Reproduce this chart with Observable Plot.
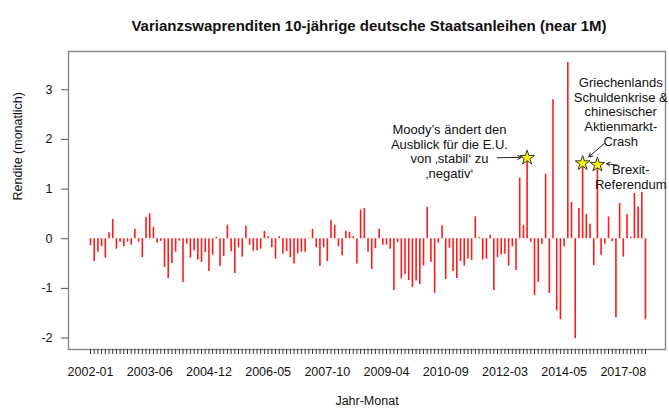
<!DOCTYPE html>
<html>
<head>
<meta charset="utf-8">
<script src="https://cdn.jsdelivr.net/npm/d3@7"></script>
<script src="https://cdn.jsdelivr.net/npm/@observablehq/plot@0.6"></script>
<style>
  html, body { margin: 0; padding: 0; background: #fff; }
</style>
</head>
<body>
<div id="chart"></div>
<script>
// Monthly variance-swap returns (one value per plotted month, in order)
const values = [
  -0.14, -0.46, -0.27, -0.16, -0.39, 0.12, 0.39, -0.21, -0.07, -0.16,
  -0.07, -0.13, 0.19, -0.07, -0.38, 0.43, 0.50, 0.23, -0.09, -0.05,
  -0.58, -0.80, -0.50, -0.27, -0.05, -0.88, -0.11, -0.39, -0.24, -0.43,
  -0.48, -0.28, -0.66, -0.33, 0.03, -0.56, -0.36, 0.27, -0.26, -0.70,
  -0.18, -0.37, 0.25, -0.13, -0.25, -0.24, -0.21, 0.15, 0.04, -0.18,
  -0.41, 0.04, -0.31, -0.26, -0.38, -0.51, -0.30, -0.27, -0.27, 0.01,
  0.19, -0.18, -0.56, -0.18, -0.46, 0.37, 0.27, -0.16, -0.34, 0.15,
  0.13, 0.04, -0.51, 0.58, 0.61, -0.27, -0.62, -0.20, 0.19, -0.13,
  -0.13, -0.21, -1.04, -0.08, -0.81, -0.72, -0.84, -0.98, -0.85, -0.92,
  -0.55, 0.63, -0.48, -1.10, -0.09, 0.26, -0.82, -0.19, -0.66, -0.80,
  -0.46, -0.55, -0.41, -0.44, 0.44, 0.02, -0.43, -0.41, 0.07, -1.04,
  -0.38, -0.33, -0.31, -0.55, -0.16, -0.64, 1.22, 0.27, 1.63, -0.07,
  -1.14, -0.88, -0.11, 1.30, -1.10, 2.80, -1.45, -1.63, -0.16, 3.55,
  0.73, -2.01, 0.61, 1.52, 0.49, 0.29, -0.54, 1.49, -0.33, -0.11,
  0.44, -0.06, -1.59, 0.71, -0.37, 0.49, 0.03, 0.91, 0.64, 0.93,
  -1.63
];

// x tick labels (one label every 16 plotted months)
const tickLabels = ["2002-01", "2003-06", "2004-12", "2006-05", "2007-10",
                    "2009-04", "2010-09", "2012-03", "2014-05", "2017-08"];
const labelEvery = 16;

const yTicks = [-2, -1, 0, 1, 2, 3];

// starred months (indices into values)
const starIndex = [118, 133, 137];

// annotation texts (positions in data units: month index, return)
const noteText = [
  "Moody’s ändert den\nAusblick für die E.U.\nvon ‚stabil‘ zu\n‚negativ‘",
  "Griechenlands\nSchuldenkrise &\nchinesischer\nAktienmarkt-\nCrash",
  "Brexit-\nReferendum"
];
const noteX = [97.0, 143.3, 146.0];
const noteY = [1.76, 2.56, 1.25];

// arrows from text to stars
const arrowX1 = [109.9, 138.9, 142.5];
const arrowY1 = [1.63, 1.92, 1.48];
const arrowX2 = [116.4, 134.7, 139.5];
const arrowY2 = [1.64, 1.65, 1.51];

const data = values.map((v, i) => ({i, v}));
const notes = noteText.map((t, k) => ({t, x: noteX[k], y: noteY[k]}));
const arrows = arrowX1.map((_, k) => ({x1: arrowX1[k], y1: arrowY1[k], x2: arrowX2[k], y2: arrowY2[k]}));
const stars = starIndex.map(i => ({i, v: values[i]}));
const xTicks = d3.range(values.length);

const chart = Plot.plot({
  width: 669,
  height: 409,
  marginLeft: 68,
  marginRight: 4,
  marginTop: 51,
  marginBottom: 60,
  style: {fontFamily: "'Liberation Sans', Arial, sans-serif", fontSize: "12.5px", color: "#111", background: "#fff"},
  x: {type: "linear", domain: [-5.95, 155.4]},
  y: {domain: [-2.23, 3.77]},
  marks: [
    Plot.frame({stroke: "#888", strokeWidth: 1.4}),
    Plot.ruleX(data, {x: "i", y1: 0, y2: "v", stroke: "#ff1a1a", strokeWidth: 1.6}),
    Plot.axisX({
      ticks: xTicks,
      tickSize: 5,
      tickPadding: 13,
      tickFormat: i => (i % labelEvery === 0 && tickLabels[i / labelEvery]) ? tickLabels[i / labelEvery] : "",
      stroke: "#333",
      label: null
    }),
    Plot.axisY({ticks: yTicks, tickSize: 7, tickPadding: 9, stroke: "#555", label: null, tickFormat: d => d}),
    Plot.arrow(arrows, {x1: "x1", y1: "y1", x2: "x2", y2: "y2", stroke: "#222", strokeWidth: 1, headLength: 6}),
    Plot.dot(stars, {x: "i", y: "v", symbol: "star", r: 4.6, fill: "#ffff00", stroke: "#333", strokeWidth: 1}),
    Plot.text(notes, {x: "x", y: "y", text: "t", fontSize: 13, lineHeight: 1.13, textAnchor: "middle", fill: "#111"}),
    Plot.text(["Varianzswaprenditen 10-jährige deutsche Staatsanleihen (near 1M)"],
      {frameAnchor: "top", text: d => d, dx: 2, dy: -31, fontSize: 15, fontWeight: "bold", fill: "#111"}),
    Plot.text(["Rendite (monatlich)"],
      {frameAnchor: "left", text: d => d, rotate: -90, dx: -51, dy: 0, fontSize: 12.5, fill: "#111"}),
    Plot.text(["Jahr-Monat"],
      {frameAnchor: "bottom", text: d => d, dy: 55, fontSize: 12.5, fill: "#111"})
  ]
});
document.getElementById("chart").appendChild(chart);
</script>
</body>
</html>
